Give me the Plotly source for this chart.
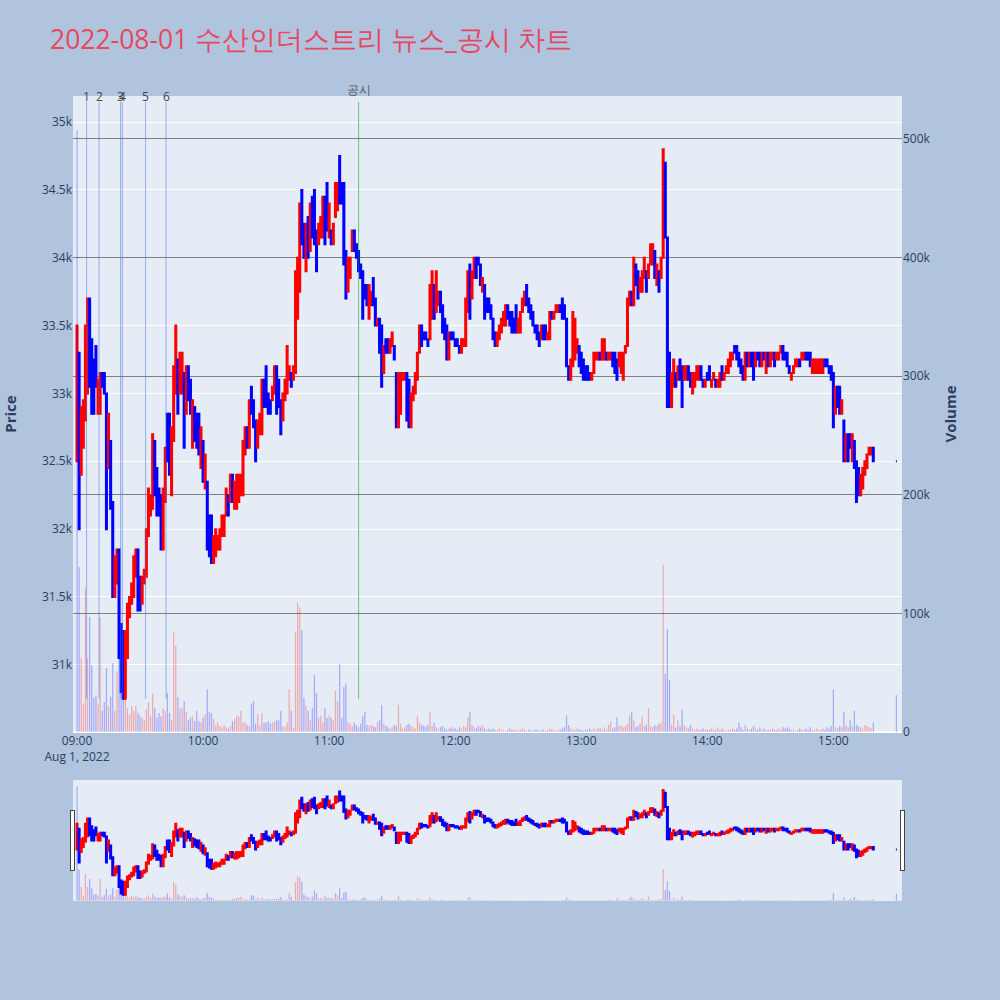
import pandas as pd
import plotly.graph_objects as go

# ---------------- data ----------------
session_start = "2022-08-01 09:00:00"
# minute offsets from 09:00 (continuous session 09:00-15:19, closing auction 15:30)
minute_offsets = list(range(380)) + [390]

# per-minute candle range (low / high) and direction (R = up, B = down)
candle_low = [
    32500,32000,32400,32600,32800,33000,33050,32850,32850,33050,
    32850,32850,33050,33000,32000,32450,32150,31500,31500,31600,
    31050,30800,30750,30750,31050,31350,31450,31500,31650,31400,
    31400,31450,31600,31650,31950,32100,32150,32250,32100,32100,
    31850,31850,32200,32500,32400,32250,32650,33000,32850,33000,
    33000,32600,32850,32950,32850,32600,32650,32600,32550,32450,
    32350,32300,31850,31800,31750,31750,31800,31850,31850,31950,
    31950,32100,32100,32200,32200,32150,32150,32200,32250,32250,
    32550,32600,32600,32850,32750,32500,32600,32700,32700,32900,
    32900,32850,32850,32950,33000,32850,32900,32700,32800,32950,
    33000,33100,33050,33100,33150,33550,33750,34100,34000,33900,
    34000,34050,34150,34100,33900,34100,34150,34150,34100,34200,
    34150,34100,34100,34300,34350,34400,34400,33950,33700,33750,
    33850,34050,34050,34000,33900,33850,33550,33700,33650,33550,
    33650,33650,33500,33500,33300,33050,33150,33300,33300,33300,
    33350,33250,32750,32750,32850,33100,33100,32800,32750,32750,
    32950,33000,33100,33300,33350,33400,33400,33350,33400,33550,
    33550,33600,33650,33600,33450,33400,33250,33250,33400,33400,
    33350,33350,33300,33300,33350,33350,33600,33550,33700,33850,
    33850,33950,33800,33750,33550,33600,33600,33550,33400,33350,
    33350,33400,33450,33500,33500,33550,33500,33450,33450,33450,
    33450,33450,33600,33650,33650,33600,33550,33500,33450,33400,
    33350,33400,33400,33400,33400,33400,33550,33550,33600,33600,
    33600,33550,33550,33200,33100,33100,33200,33250,33300,33200,
    33150,33100,33100,33100,33100,33100,33150,33250,33250,33250,
    33250,33250,33250,33250,33250,33200,33150,33100,33200,33150,
    33100,33300,33350,33650,33650,33650,33800,33700,33750,33750,
    33850,33750,33850,33950,33950,33850,33800,33750,33850,34000,
    34150,32900,32900,32900,33050,33050,33100,33100,32900,33100,
    33100,33100,33050,33000,33050,33100,33100,33100,33050,33050,
    33100,33100,33050,33100,33050,33050,33050,33100,33100,33150,
    33150,33200,33250,33300,33250,33200,33150,33100,33100,33200,
    33200,33200,33100,33200,33250,33200,33200,33250,33150,33200,
    33200,33250,33200,33250,33250,33300,33250,33250,33200,33150,
    33100,33150,33200,33200,33200,33250,33250,33250,33250,33200,
    33150,33150,33150,33150,33150,33150,33200,33200,33150,33100,
    32750,32850,32900,32850,32850,32500,32500,32500,32600,32500,
    32450,32200,32250,32250,32300,32400,32450,32550,32550,32500,
    32500,
]
candle_high = [
    33500,33300,32900,32950,33500,33700,33700,33400,33250,33350,
    33100,33150,33150,33150,33000,32850,32650,32200,31800,31850,
    31850,31300,31250,31250,31450,31500,31600,31800,31850,31850,
    31650,31650,31700,32000,32300,32250,32700,32650,32450,32300,
    32250,32300,32600,32850,32850,32750,33200,33500,33250,33300,
    33300,33150,33200,33200,33100,32950,32900,32850,32850,32750,
    32650,32550,32350,32100,32100,31950,32000,31950,32000,32100,
    32100,32300,32250,32400,32400,32350,32400,32400,32400,32650,
    32750,32750,32950,33050,32950,32800,32800,32850,33100,33100,
    33200,33000,32950,33050,33200,33200,33100,32950,33000,33100,
    33350,33200,33150,33200,33900,34000,34400,34500,34250,34250,
    34300,34400,34450,34500,34200,34250,34300,34450,34450,34550,
    34400,34200,34250,34550,34550,34750,34550,34550,34050,34000,
    34000,34200,34200,34100,34050,33950,33900,33800,33800,33800,
    33750,33850,33700,33550,33550,33500,33350,33400,33400,33400,
    33450,33350,33150,33150,33150,33150,33150,33150,33100,33000,
    33050,33150,33300,33500,33500,33450,33450,33400,33800,33900,
    33800,33900,33750,33750,33650,33550,33500,33450,33450,33450,
    33400,33400,33350,33400,33400,33700,33900,33950,33900,34000,
    34000,34000,33950,33850,33800,33700,33700,33650,33550,33450,
    33450,33500,33550,33600,33650,33650,33600,33600,33550,33650,
    33550,33600,33700,33750,33800,33700,33650,33600,33500,33500,
    33450,33500,33500,33500,33450,33600,33600,33600,33650,33650,
    33650,33700,33650,33550,33200,33250,33600,33550,33400,33350,
    33300,33250,33200,33200,33150,33150,33300,33300,33300,33300,
    33400,33400,33300,33300,33300,33300,33300,33250,33300,33300,
    33300,33350,33700,33750,33750,34000,33950,33900,33850,33900,
    34000,33900,33950,34100,34100,34050,33950,33900,34000,34800,
    34700,34150,33300,33150,33250,33150,33200,33250,33200,33200,
    33200,33200,33150,33150,33150,33200,33200,33200,33100,33100,
    33150,33200,33100,33150,33100,33100,33150,33200,33150,33200,
    33250,33300,33300,33350,33350,33300,33250,33200,33300,33300,
    33300,33300,33300,33300,33300,33300,33300,33300,33300,33300,
    33300,33300,33300,33300,33300,33350,33350,33300,33300,33200,
    33150,33200,33250,33250,33250,33300,33300,33300,33300,33300,
    33250,33250,33250,33250,33250,33250,33250,33250,33200,33200,
    33150,33050,33050,33050,32950,32800,32700,32700,32700,32700,
    32650,32500,32450,32400,32450,32500,32550,32600,32600,32600,
    32500,
]
candle_dir = (
    "RBRRRRBBBB" "RRBBBRBBRR" "BBBRRRRRRB" "BRRRRRRBBB" "BRRBBRRRBR"
    "RBRBBRBBBR" "BRBBBRRRRR" "RRBRBRRRRR" "RBRBBBRRRB" "BBBRRBBBRR"
    "RRBRRRRBBR" "BRBBBRRRBB" "RBRRRBBBBR" "RRBBBBBBBR" "RBBRBBRBBR"
    "RBBRRRRBBR" "RRRRBBBBRR" "BRRBBBBRBB" "BBBRRRRBRR" "BBBRBBBBBB"
    "RRRRRBBBBB" "RRRRBBBBBB" "BRBBRRBRRR" "BBBBBRRRRB" "BBBBBRRRRB"
    "RRBRRBBBRR" "RRRRBRBBRR" "RBRRRBRBRR" "BBBRRBRBBR" "RBBRRRRBBR"
    "BBRRBRRBRR" "RRRBBBBBRB" "RBBRBBRBRB" "RRBRRRBBBB" "RRRRBRRBBB"
    "RRRRRRBBBB" "BRBBRBRBBR" "BBBRRRRRRB" "B"
)
# traded volume per minute, thousands of shares
volume_k = [
    507,139,62,24,121,62,97,56,29,31,
    24,97,18,25,54,22,30,58,18,51,
    75,87,40,80,20,15,22,18,22,16,
    14,12,10,19,25,14,32,20,12,16,
    13,20,18,33,16,10,85,73,29,20,
    20,26,17,10,12,13,9,18,9,8,
    12,15,36,17,16,11,6,8,5,4,
    6,4,3,5,9,11,14,13,18,8,
    8,6,5,24,26,7,15,6,16,8,
    8,9,7,8,9,10,10,18,5,4,
    8,36,18,4,84,109,105,86,29,22,
    18,10,20,48,33,12,14,8,20,12,
    14,12,10,35,26,57,12,38,41,8,
    7,5,8,6,4,7,13,17,6,5,
    6,5,4,8,10,23,7,5,4,3,
    4,6,5,23,7,3,4,6,7,5,
    4,3,13,8,6,5,4,6,17,5,
    8,4,3,4,5,3,2,3,4,3,
    3,2,4,3,5,4,12,17,6,4,
    3,5,4,6,3,2,3,2,3,2,
    2,3,2,2,1,2,3,2,2,1,
    2,2,3,2,1,2,2,1,2,2,
    1,2,2,1,2,3,2,2,1,2,
    2,3,4,14,6,3,2,2,3,2,
    2,1,2,2,3,2,3,2,4,3,
    2,4,2,6,9,3,4,12,5,6,
    4,5,7,14,17,10,4,5,7,13,
    5,6,20,5,4,6,5,7,8,141,
    49,87,44,6,15,4,10,5,19,6,
    4,3,6,3,2,3,2,2,3,2,
    2,2,3,2,2,4,2,3,2,1,
    2,2,3,2,3,8,4,2,6,3,
    2,3,5,3,2,4,2,3,2,2,
    2,3,2,2,3,2,4,3,4,3,
    2,2,1,2,3,2,2,3,2,4,
    2,2,3,2,2,3,2,4,3,5,
    36,4,3,5,4,17,6,4,10,5,
    18,6,5,4,3,6,5,4,3,8,
    31,
]

news_labels = ["1", "2", "3", "4", "5", "6"]
news_times = ["2022-08-01 09:04:34", "2022-08-01 09:10:28", "2022-08-01 09:20:45",
              "2022-08-01 09:21:34", "2022-08-01 09:32:39", "2022-08-01 09:42:22"]
disclosure_label = "공시"
disclosure_time = "2022-08-01 11:14:02"

title_text = "2022-08-01 수산인더스트리 뉴스_공시 차트"

# ---------------- build ----------------
times = pd.Timestamp(session_start) + pd.to_timedelta(minute_offsets, unit="min")
opens, closes = [], []
for lo, hi, d in zip(candle_low, candle_high, candle_dir):
    if d == "R":
        opens.append(lo); closes.append(hi)
    else:
        opens.append(hi); closes.append(lo)

vol = [v * 1000 for v in volume_k]
vol_colors = ["rgba(0,0,255,0.28)"] + [
    "rgba(255,0,0,0.28)" if d == "R" else "rgba(0,0,255,0.28)" for d in candle_dir[1:]
]

line_bottom = min(candle_low)
line_top = max(candle_high) * 1.01

fig = go.Figure()
fig.add_trace(go.Candlestick(
    x=times, open=opens, high=candle_high, low=candle_low, close=closes,
    increasing=dict(line=dict(color="red"), fillcolor="red"),
    decreasing=dict(line=dict(color="blue"), fillcolor="blue"),
    name="Price", yaxis="y",
))
fig.add_trace(go.Bar(
    x=times, y=vol, width=36000,
    marker=dict(color=vol_colors, line=dict(width=0)),
    name="Volume", yaxis="y2",
))

shapes = []
annotations = []
for lab, t in zip(news_labels, news_times):
    shapes.append(dict(type="line", xref="x", yref="y", x0=t, x1=t,
                       y0=line_bottom, y1=line_top,
                       line=dict(color="rgba(65,105,225,0.5)", width=1)))
    annotations.append(dict(x=t, xref="x", y=1.0, yref="paper", text=lab,
                            showarrow=False, yanchor="middle",
                            font=dict(size=12, color="#444")))
shapes.append(dict(type="line", xref="x", yref="y", x0=disclosure_time, x1=disclosure_time,
                   y0=line_bottom, y1=line_top,
                   line=dict(color="rgba(0,160,0,0.55)", width=1)))
annotations.append(dict(x=disclosure_time, xref="x", y=1.0095, yref="paper",
                        text=disclosure_label, showarrow=False, yanchor="middle",
                        font=dict(size=12, color="#555")))

x_range = ["2022-08-01 08:58:05", "2022-08-01 15:32:40"]

fig.update_layout(
    width=1000, height=1000,
    paper_bgcolor="lightsteelblue",
    plot_bgcolor="#E5ECF6",
    showlegend=False,
    margin=dict(l=73, r=98, t=96, b=100),
    title=dict(text=title_text, x=0.05, xanchor="left", y=0.96, yanchor="middle",
               font=dict(size=26.5, color="#E8475F")),
    xaxis=dict(type="date", range=x_range, dtick=3600000,
               rangeslider=dict(visible=True, range=x_range, thickness=0.15)),
    yaxis=dict(title=dict(text="<b>Price</b>", font=dict(size=15), standoff=23),
               range=[30505, 35192], automargin=False),
    yaxis2=dict(title=dict(text="<b>Volume</b>", font=dict(size=15)),
                overlaying="y", side="right", range=[0, 536000],
                gridcolor="gray", showgrid=True, automargin=False),
    shapes=shapes,
    annotations=annotations,
)

fig.write_html("out.html", config={"displayModeBar": False},
               post_script="document.body.style.margin='0px';")
